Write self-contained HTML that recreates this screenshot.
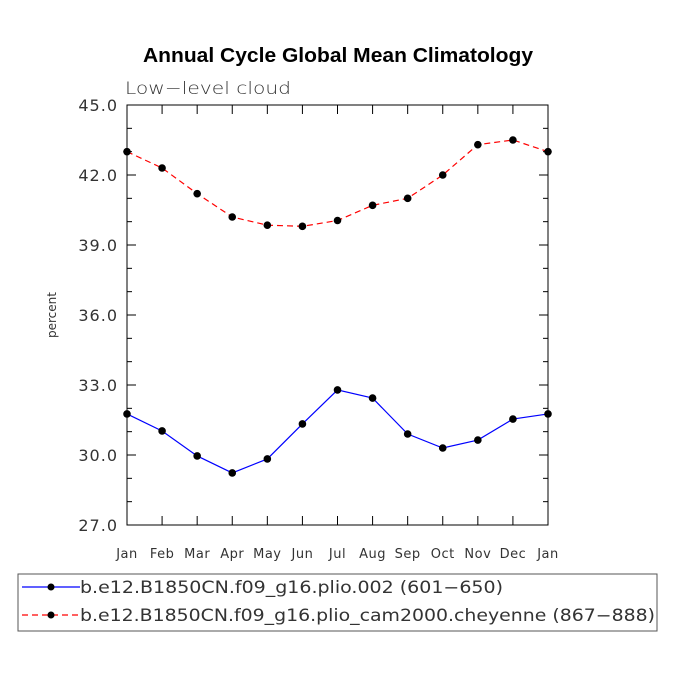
<!DOCTYPE html>
<html><head><meta charset="utf-8"><style>
body{margin:0;background:#fff;}
</style></head><body>
<svg id="chart" width="675" height="676" viewBox="0 0 675 676" xmlns="http://www.w3.org/2000/svg" font-family="DejaVu Sans, Liberation Sans, sans-serif">
<text x="143" y="62" textLength="390" lengthAdjust="spacingAndGlyphs" font-family="Liberation Sans, sans-serif" font-weight="bold" font-size="20">Annual Cycle Global Mean Climatology</text>
<text x="125" y="94" textLength="166" lengthAdjust="spacingAndGlyphs" font-size="17" fill="#333" font-weight="300">Low−level cloud</text>
<text transform="translate(56,315) rotate(-90)" text-anchor="middle" font-size="12" fill="#333">percent</text>
<g id="axes"></g><g id="series"></g>
<rect x="18" y="574" width="639" height="57" fill="none" stroke="#555"/>
<g>
<line x1="22" y1="587" x2="80" y2="587" stroke="#00f" stroke-width="1.2"/><circle cx="51" cy="587" r="3.5"/>
<text x="80" y="593" textLength="423" lengthAdjust="spacingAndGlyphs" font-size="16.5" fill="#333">b.e12.B1850CN.f09_g16.plio.002 (601−650)</text></g>
<g>
<line x1="22" y1="615" x2="80" y2="615" stroke="#f00" stroke-width="1.2" stroke-dasharray="6,4"/><circle cx="51" cy="615" r="3.5"/>
<text x="80" y="621" textLength="575" lengthAdjust="spacingAndGlyphs" font-size="16.5" fill="#333">b.e12.B1850CN.f09_g16.plio_cam2000.cheyenne (867−888)</text></g>
</svg>
<script>
const months=["Jan","Feb","Mar","Apr","May","Jun","Jul","Aug","Sep","Oct","Nov","Dec","Jan"];
const blueValues=[31.76,31.03,29.96,29.23,29.83,31.33,32.79,32.44,30.9,30.3,30.64,31.54,31.76];
const redValues=[43.0,42.3,41.2,40.2,39.85,39.8,40.05,40.7,41.0,42.0,43.3,43.5,43.0];
const yTicks=[27,30,33,36,39,42,45];
const NS="http://www.w3.org/2000/svg";
const X0=127,X1=548,Y0=525,Y1=105,YMIN=27,YMAX=45;
const xs=i=>X0+(X1-X0)*i/(months.length-1);
const ys=v=>Y0-(v-YMIN)/(YMAX-YMIN)*(Y0-Y1);
function mk(t,a,p){const e=document.createElementNS(NS,t);for(const k in a)e.setAttribute(k,a[k]);p.appendChild(e);return e;}
const ax=document.getElementById('axes');
const frame=mk('rect',{x:X0,y:Y1,width:X1-X0,height:Y0-Y1,fill:'none',stroke:'#000','stroke-width':1},ax);


for(let v=YMIN;v<=YMAX+1e-9;v+=1){const y=ys(v);const major=yTicks.includes(Math.round(v));const L=major?9:5;
mk('line',{x1:X0,y1:y,x2:X0+L,y2:y,stroke:'#000'},ax);mk('line',{x1:X1,y1:y,x2:X1-L,y2:y,stroke:'#000'},ax);}
yTicks.forEach(v=>{const t=mk('text',{x:X0-9,y:ys(v)+6,'text-anchor':'end','font-size':16,fill:'#333','letter-spacing':1},ax);t.textContent=v.toFixed(1);

});
months.forEach((m,i)=>{const x=xs(i);mk('line',{x1:x,y1:Y0,x2:x,y2:Y0-9,stroke:'#000'},ax);mk('line',{x1:x,y1:Y1,x2:x,y2:Y1+9,stroke:'#000'},ax);
const t=mk('text',{x:x,y:Y0+33,'text-anchor':'middle','font-size':13,fill:'#333','letter-spacing':0.5},ax);t.textContent=m;

});
const sg=document.getElementById('series');
function series(vals,color,dash,name){const pts=vals.map((v,i)=>xs(i)+','+ys(v)).join(' ');
const pl=mk('polyline',{points:pts,fill:'none',stroke:color,'stroke-width':1.2,'stroke-dasharray':dash},sg);


vals.forEach((v,i)=>{const c=mk('circle',{cx:xs(i),cy:ys(v),r:3.8,fill:'#000'},sg);

});}
series(redValues,'#f00','6,4','red-series');
series(blueValues,'#00f','none','blue-series');
</script>
</body></html>
